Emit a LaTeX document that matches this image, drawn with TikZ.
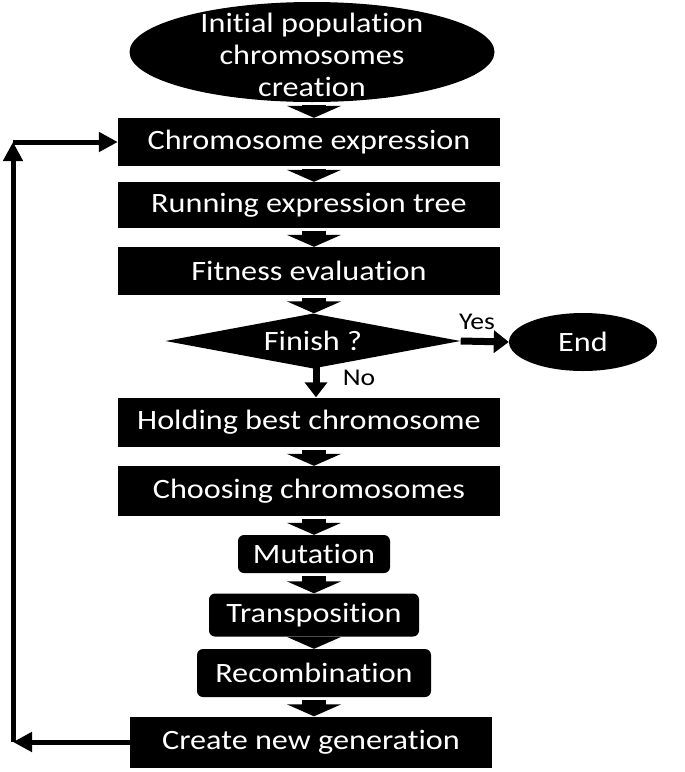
\documentclass[tikz,border=0pt]{standalone}
\usepackage{fontspec}
\setmainfont[Ligatures=NoCommon]{Carlito}
\usetikzlibrary{shapes.geometric,arrows.meta}
\newcommand{\sx}[1]{\scalebox{1.15}[1]{#1}}
\begin{document}
\begin{tikzpicture}[x=1pt,y=-1pt,
  every node/.style={font=\fontsize{28}{32}\selectfont},
  blk/.style={fill=black,text=white,inner sep=0pt,align=center},
  rbox/.style={blk,rectangle},
  rrbox/.style={blk,rectangle,rounded corners=6pt},
  oval/.style={blk,ellipse},
  dia/.style={blk,diamond,aspect=5.2},
  fatarrow/.style={line width=24pt,-{Triangle[width=54pt,length=12pt]}},
  thinarrow/.style={line width=7pt,-{Triangle[width=22pt,length=15pt]}},
  looparrow/.style={line width=5pt,-{Triangle[width=19pt,length=19pt]}},
  lbl/.style={text=black,inner sep=0pt,font=\fontsize{24}{28}\selectfont}]
\useasboundingbox (0,0) rectangle (685,772);
\node[oval,minimum width=365pt,minimum height=100pt] (init) at (312,52) {};
\node[text=white,inner sep=0pt,align=center] (inittext) at ([yshift=-3pt]init.center) {\sx{Initial population}\\\sx{chromosomes}\\\sx{creation}};
\node[rbox,minimum width=382pt,minimum height=48pt] (ce) at (309,142) {\sx{Chromosome expression}};
\node[rbox,minimum width=382pt,minimum height=46pt] (ret) at (309,205) {\sx{Running expression tree}};
\node[rbox,minimum width=382pt,minimum height=48pt] (fe) at (309,271) {\sx{Fitness evaluation}};
\node[dia,minimum width=295pt,minimum height=55pt] (fin) at (313,341) {\sx{Finish ?}};
\node[oval,minimum width=148pt,minimum height=58pt] (end) at (583,342) {\sx{End}};
\node[rbox,minimum width=382pt,minimum height=49pt] (hb) at (309,422) {\sx{Holding best chromosome}};
\node[rbox,minimum width=382pt,minimum height=50pt] (cc) at (309,491) {\sx{Choosing chromosomes}};
\node[rrbox,minimum width=152pt,minimum height=38pt] (mu) at (314,554) {\sx{Mutation}};
\node[rrbox,minimum width=210pt,minimum height=43pt] (tr) at (314,615) {\sx{Transposition}};
\node[rrbox,minimum width=234pt,minimum height=48pt] (re) at (314,673) {\sx{Recombination}};
\node[rbox,minimum width=362pt,minimum height=51pt] (cng) at (311,742) {\sx{Create new generation}};
\coordinate (c1) at (13,742);
\coordinate (c2) at (13,142);
\draw[fatarrow] ([yshift=-3pt]init.south -| mu.north) -- (ce.north -| mu.north);
\draw[fatarrow] ([yshift=-3pt]ce.south -| mu.north) -- (ret.north -| mu.north);
\draw[fatarrow] ([yshift=-3pt]ret.south -| mu.north) -- (fe.north -| mu.north);
\draw[fatarrow] ([yshift=-3pt]fe.south -| mu.north) -- (fin.north -| mu.north);
\draw[thinarrow] ([yshift=2pt]fin.south -| 316,0) -- (hb.north -| 316,0);
\draw[thinarrow] (fin.east) -- (end.west);
\draw[fatarrow] ([yshift=-3pt]hb.south -| mu.north) -- (cc.north -| mu.north);
\draw[fatarrow] ([yshift=-3pt]cc.south -| mu.north) -- (mu.north);
\draw[fatarrow] ([yshift=-3pt]mu.south) -- (tr.north -| mu.north);
\draw[fatarrow] ([yshift=-3pt]tr.south -| mu.north) -- (re.north -| mu.north);
\draw[fatarrow] ([yshift=-3pt]re.south -| mu.north) -- (cng.north -| mu.north);
\draw[looparrow] (cng.west) -- (c1);
\draw[looparrow] (c1) -- (c2);
\draw[looparrow] (c2) -- (ce.west);
\node[lbl] (yes) at (477,322) {\sx{Yes}};
\node[lbl] (no) at (359,378) {\sx{No}};
\end{tikzpicture}
\end{document}
